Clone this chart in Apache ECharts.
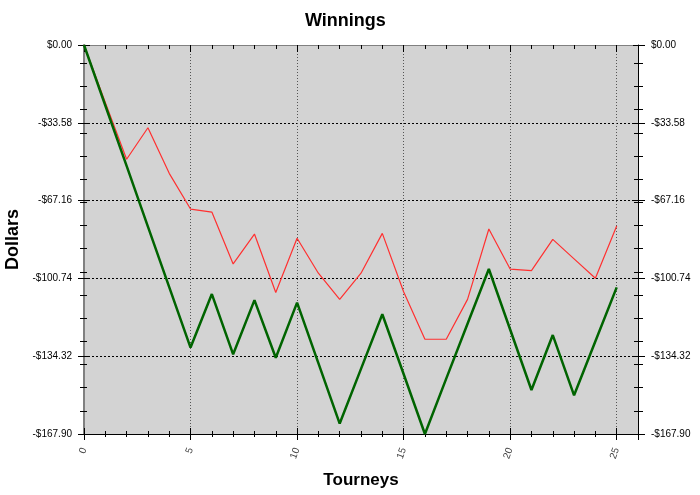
<!DOCTYPE html>
<html>
<head>
<meta charset="utf-8">
<script src="https://cdn.jsdelivr.net/npm/echarts@6/dist/echarts.min.js"></script>
<style>
  html, body { margin: 0; padding: 0; background: #fff; }
  #main { width: 700px; height: 495px; }
</style>
</head>
<body>
<div id="main"></div>
<script>
// data
const tourneys = [0, 1, 2, 3, 4, 5, 6, 7, 8, 9, 10, 11, 12, 13, 14, 15, 16, 17, 18, 19, 20, 21, 22, 23, 24, 25]
const greenLine = [0, -26.1, -52.2, -78.4, -104.5, -130.6, -107.5, -133.5, -110.1, -135.0, -111.2, -137.3, -163.4,
  -139.8, -116.2, -142.0, -167.9, -144.0, -120.3, -96.7, -122.8, -148.9, -125.2, -151.2, -127.9, -104.6]
const redLine = [0, -24.8, -49.3, -35.7, -55.4, -70.8, -72.1, -94.5, -81.6, -106.8, -83.4, -98.5, -109.8,
  -98.5, -81.3, -106.5, -127.0, -127.0, -109.8, -79.4, -96.7, -97.4, -83.9, -92.3, -100.7, -78.1]
const yTicks = [0, -33.58, -67.16, -100.74, -134.32, -167.90]

const FONT = 'Liberation Sans, Arial, sans-serif'
const yMin = yTicks[yTicks.length - 1]
const yStep = Math.abs(yTicks[1])

const money = v => (v < -0.001 ? '-$' : '$') + Math.abs(v).toFixed(2)

// helper for the extra tick-only axes
function xTicks(pos, interval, inside, len, color) {
  return {
    type: 'value', position: pos, min: 0, max: 26, interval: interval,
    axisLine: { show: false, onZero: false },
    axisTick: { show: true, inside: inside, length: len, lineStyle: { color: color } },
    axisLabel: { show: false }, splitLine: { show: false }
  }
}
function yTicksAxis(pos, interval, inside, len) {
  return {
    type: 'value', position: pos, min: yMin, max: 0, interval: interval,
    axisLine: { show: false, onZero: false },
    axisTick: { show: true, inside: inside, length: len, lineStyle: { color: '#000' } },
    axisLabel: { show: false }, splitLine: { show: false }
  }
}

const chart = echarts.init(document.getElementById('main'))
chart.setOption({
  animation: false,
  textStyle: { fontFamily: FONT },
  title: {
    text: 'Winnings', left: 305, top: 12, padding: 0,
    textStyle: { fontSize: 18, fontWeight: 'bold', color: '#000', fontFamily: FONT }
  },
  grid: {
    left: 84, right: 62, top: 45, bottom: 61,
    outerBoundsMode: 'none', containLabel: false,
    show: true, backgroundColor: '#d3d3d3', borderWidth: 0
  },
  xAxis: [
    {
      type: 'value', position: 'bottom', min: 0, max: 26, interval: 5,
      name: 'Tourneys', nameLocation: 'middle', nameGap: 38,
      nameTextStyle: { fontSize: 17, fontWeight: 'bold', color: '#000', fontFamily: FONT },
      axisLine: { show: true, onZero: false, lineStyle: { color: '#000', width: 1 } },
      axisTick: { show: true, length: 6, lineStyle: { color: '#000' } },
      axisLabel: {
        rotate: 70, margin: 14, fontSize: 10, color: '#444', fontFamily: FONT,
        formatter: v => (v > 25 ? '' : String(v))
      },
      splitLine: { show: true, lineStyle: { color: '#555', type: [1, 2], width: 1 } }
    },
    xTicks('bottom', 5, true, 6, '#000'),
    xTicks('bottom', 1, false, 3, '#000'),
    xTicks('bottom', 1, true, 3, '#000'),
    {
      type: 'value', position: 'top', min: 0, max: 26, interval: 1,
      axisLine: { show: true, onZero: false, lineStyle: { color: '#808080' } },
      axisTick: { show: true, inside: true, length: 4, lineStyle: { color: '#000' } },
      axisLabel: { show: false }, splitLine: { show: false }
    },
    xTicks('top', 5, true, 7, '#000')
  ],
  yAxis: [
    {
      type: 'value', position: 'left', min: yMin, max: 0, interval: yStep,
      name: 'Dollars', nameLocation: 'middle', nameGap: 61,
      nameTextStyle: { fontSize: 18, fontWeight: 'bold', color: '#000', fontFamily: FONT },
      axisLine: { show: true, onZero: false, lineStyle: { color: '#808080', width: 2 } },
      axisTick: { show: true, length: 6, lineStyle: { color: '#000' } },
      axisLabel: { margin: 12, fontSize: 10, color: '#000', fontFamily: FONT, formatter: money },
      splitLine: { show: true, lineStyle: { color: '#000', type: [2, 2], width: 1 } }
    },
    yTicksAxis('left', yStep, true, 6),
    yTicksAxis('left', 10, false, 4),
    yTicksAxis('left', 10, true, 3),
    {
      type: 'value', position: 'right', min: yMin, max: 0, interval: yStep,
      axisLine: { show: true, onZero: false, lineStyle: { color: '#000', width: 1 } },
      axisTick: { show: true, length: 7, lineStyle: { color: '#000' } },
      axisLabel: { margin: 13, fontSize: 10, color: '#000', fontFamily: FONT, formatter: money },
      splitLine: { show: false }
    },
    yTicksAxis('right', yStep, true, 5),
    yTicksAxis('right', 10, false, 5),
    yTicksAxis('right', 10, true, 4)
  ],
  series: [
    {
      name: 'red', type: 'line', xAxisIndex: 0, yAxisIndex: 0,
      data: tourneys.map((t, i) => [t, redLine[i]]),
      symbol: 'none', lineStyle: { color: '#ff3030', width: 1.2 }, z: 3
    },
    {
      name: 'green', type: 'line', xAxisIndex: 0, yAxisIndex: 0,
      data: tourneys.map((t, i) => [t, greenLine[i]]),
      symbol: 'none', lineStyle: { color: '#006400', width: 2.5 }, z: 4
    }
  ]
})
</script>
</body>
</html>
